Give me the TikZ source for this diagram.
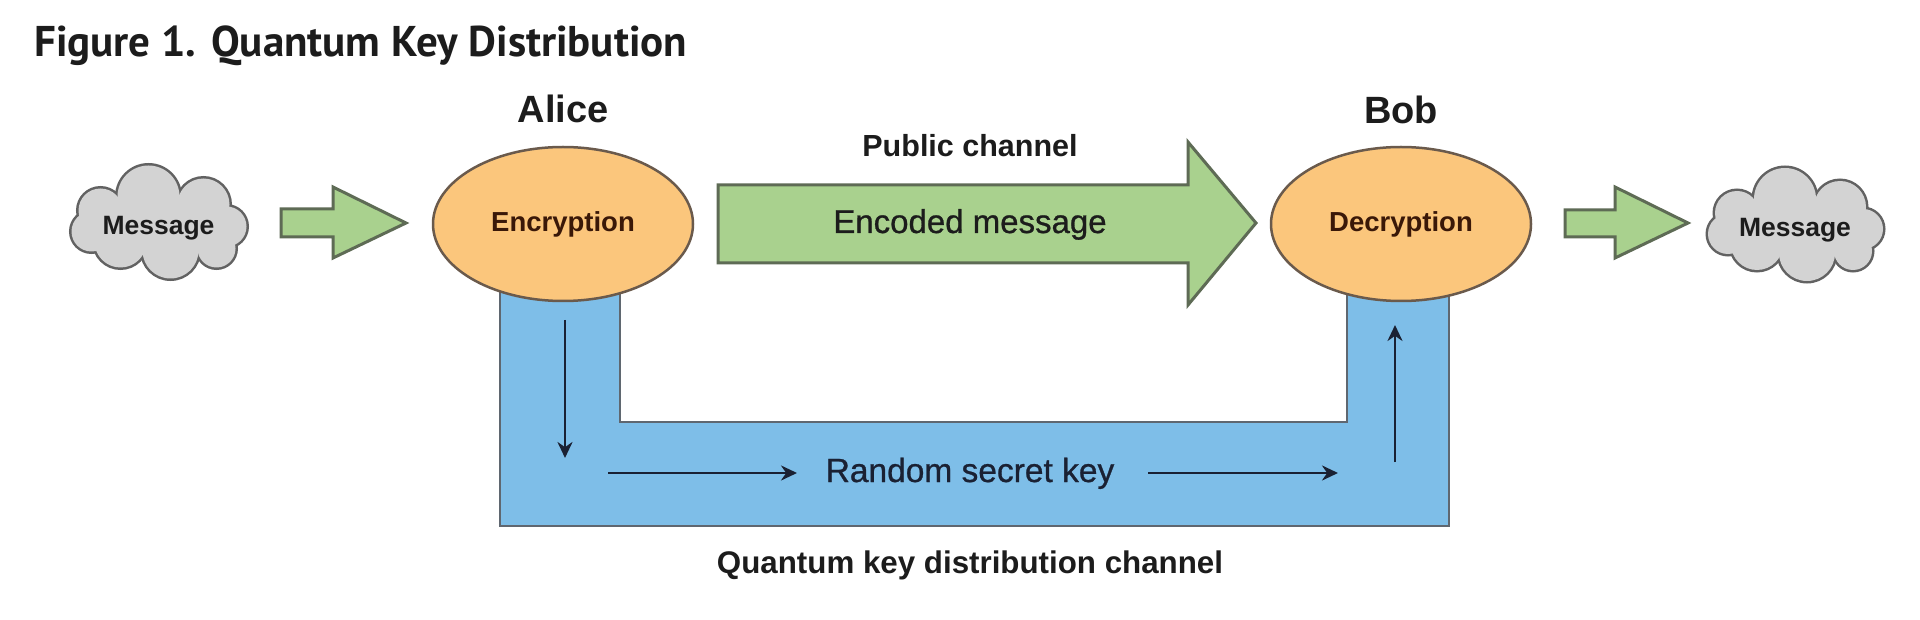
\documentclass[tikz,border=0pt]{standalone}
\usepackage{fontspec}
\setmainfont{Liberation Sans}
\newfontfamily\titlefont{PT Sans}
\newfontfamily\medfont{Liberation Sans}[FakeBold=0.8]
\usetikzlibrary{shapes.geometric,arrows.meta}
\definecolor{grn}{HTML}{A9D18E}
\definecolor{grnline}{HTML}{5E6B55}
\definecolor{chanblue}{HTML}{7EBEE8}
\definecolor{chanline}{HTML}{5F6770}
\definecolor{orng}{HTML}{FBC67C}
\definecolor{orngline}{HTML}{6A5A4C}
\definecolor{cloudfill}{HTML}{D3D3D3}
\definecolor{cloudline}{HTML}{626262}
\definecolor{brn}{HTML}{3A1808}
\definecolor{navy}{HTML}{1A2133}
\definecolor{ink}{HTML}{1C1C1C}
\tikzset{
  garrow/.style={fill=grn, draw=grnline, line width=3pt, line join=miter},
  chan/.style={fill=chanblue, draw=chanline, line width=2.5pt},
  party/.style={ellipse, fill=orng, draw=orngline, line width=2.5pt,
    minimum width=260pt, minimum height=154pt, inner sep=0pt,
    text=brn, font=\bfseries\fontsize{27.5}{30}\selectfont},
  cloudrim/.style={draw=cloudline, line width=5pt},
  cloudbody/.style={fill=cloudfill},
  msgtext/.style={inner sep=0pt, text=ink, font=\bfseries\fontsize{26.5}{30}\selectfont},
  keyarrow/.style={draw=navy, line width=2.8pt, -{Stealth[length=16pt,width=15pt]}},
  lbl/.style={text=ink, inner sep=0pt},
}
% cloud drawn as a union of puffs: #1 = centre
\newcommand\puffcloud[1]{%
  \begin{scope}[shift={#1}]
    \foreach \cx/\cy/\r in {-10/-26/31, 45/-18/26, 68/4/20, 58/26/19,
                            12/28/28, -38/19/26, -67/9/20, -58/-12/22}
      \draw[cloudrim] (\cx,\cy) circle (\r pt);
    \foreach \cx/\cy/\r in {-10/-26/31, 45/-18/26, 68/4/20, 58/26/19,
                            12/28/28, -38/19/26, -67/9/20, -58/-12/22}
      \fill[cloudbody] (\cx,\cy) circle (\r pt);
    \fill[cloudbody] (-10,-26) -- (45,-18) -- (68,4) -- (58,26) -- (12,28)
      -- (-38,19) -- (-67,9) -- (-58,-12) -- cycle;
    \fill[cloudbody] (0,0) ellipse (55pt and 30pt);
  \end{scope}}
\begin{document}
\begin{tikzpicture}[x=1pt,y=-1pt]
\useasboundingbox[fill=white] (0,0) rectangle (1920,620);

% title
\node[anchor=base west, inner sep=0pt, text=ink] (title) at (34,57)
  {\titlefont\bfseries\fontsize{43}{50}\selectfont Figure 1. Quantum Key Distribution};

% quantum key distribution channel (U shape)
\draw[chan] (500,270) -- (500,526) -- (1449,526) -- (1449,270) -- (1347,270)
  -- (1347,422) -- (620,422) -- (620,270) -- cycle;

% green arrows
\draw[garrow] (718,185) -- (1188,185) -- (1188,142) -- (1256,223) -- (1188,305)
  -- (1188,263) -- (718,263) -- cycle;
\draw[garrow] (281,209) -- (333,209) -- (333,187) -- (406,223) -- (333,258)
  -- (333,237) -- (281,237) -- cycle;
\draw[garrow] (1565,210) -- (1615,210) -- (1615,187) -- (1688,223) -- (1615,258)
  -- (1615,237) -- (1565,237) -- cycle;

% parties
\node[party] (enc) at (563,224) {Encryption};
\node[party] (dec) at (1401,224) {Decryption};

% clouds
\puffcloud{(158.5,222.5)}
\puffcloud{(1795,225)}
\node[msgtext] (msgL) at (158.5,228) {Message};
\node[msgtext] (msgR) at (1795,230) {Message};

% labels
\node[lbl, anchor=base, font=\bfseries\fontsize{38}{42}\selectfont] (alice) at (563,123) {Alice};
\node[lbl, anchor=base, font=\bfseries\fontsize{38}{42}\selectfont] (bob) at (1401,124) {Bob};
\node[lbl, anchor=base, font=\bfseries\fontsize{30.5}{34}\selectfont] (pub) at (970,157) {Public channel};
\node[lbl, anchor=base, font=\medfont\fontsize{33}{36}\selectfont] (encmsg) at (970,233) {Encoded message};
\node[lbl, anchor=base, text=navy, font=\medfont\fontsize{33.5}{36}\selectfont] (rsk) at (970,482) {Random secret key};
\node[lbl, anchor=base, font=\bfseries\fontsize{31.3}{34}\selectfont] (qkd) at (970,573) {Quantum key distribution channel};

% key arrows
\coordinate (a1s) at (565,320);
\coordinate (a1e) at (565,458);
\coordinate (a2s) at (608,473);
\coordinate (a2e) at (797,473);
\coordinate (a3s) at (1148,473);
\coordinate (a3e) at (1338,473);
\coordinate (a4s) at (1395,462);
\coordinate (a4e) at (1395,325);
\draw[keyarrow] (a1s) -- (a1e);
\draw[keyarrow] (a2s) -- (a2e);
\draw[keyarrow] (a3s) -- (a3e);
\draw[keyarrow] (a4s) -- (a4e);
\end{tikzpicture}
\end{document}
